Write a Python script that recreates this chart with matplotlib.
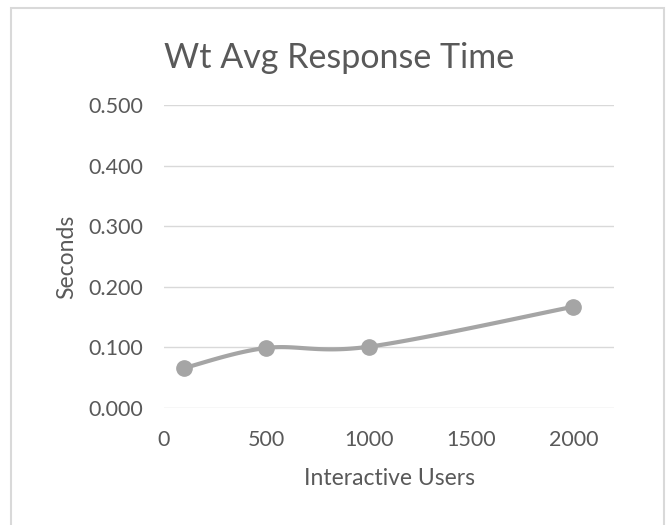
import numpy as np
import matplotlib
matplotlib.use("Agg")
import matplotlib.pyplot as plt
from matplotlib.patches import Rectangle

users = [100, 500, 1000, 2000]
seconds = [0.066, 0.099, 0.101, 0.167]
x_ticks = [0, 500, 1000, 1500, 2000]
y_ticks = [0.0, 0.1, 0.2, 0.3, 0.4, 0.5]

def catmull(xs, ys, n=40):
    P = np.column_stack([xs, ys]).astype(float)
    P = np.vstack([P[0], P, P[-1]])
    out = []
    for i in range(1, len(P) - 2):
        p0, p1, p2, p3 = P[i-1], P[i], P[i+1], P[i+2]
        c1 = p1 + (p2 - p0) / 6
        c2 = p2 - (p3 - p1) / 6
        t = np.linspace(0, 1, n)[:, None]
        seg = (1-t)**3*p1 + 3*(1-t)**2*t*c1 + 3*(1-t)*t**2*c2 + t**3*p2
        out.append(seg if i == 1 else seg[1:])
    S = np.vstack(out)
    return S[:, 0], S[:, 1]

plt.rcParams['font.family'] = ['Lato', 'DejaVu Sans']
txt = '#595959'
fig = plt.figure(figsize=(6.72, 5.25), dpi=100)
fig.patches.append(Rectangle((0.016, -0.02), 0.972, 1.005, transform=fig.transFigure,
                             fill=False, edgecolor='#D9D9D9', linewidth=1.5))
ax = fig.add_axes([0.244, 0.223, 0.67, 0.577])
sx, sy = catmull(users, seconds)
ax.plot(sx, sy, color='#A5A5A5', linewidth=3, solid_capstyle='round', zorder=3)
ax.plot(users, seconds, 'o', color='#A5A5A5', markersize=11, zorder=4)
ax.set_xlim(0, 2200)
ax.set_ylim(0, 0.5)
ax.set_xticks(x_ticks)
ax.set_yticks(y_ticks)
ax.set_yticklabels([f"{v:.3f}" for v in y_ticks])
ax.grid(axis='y', color='#D9D9D9', linewidth=1)
ax.set_axisbelow(True)
for s in ax.spines.values():
    s.set_visible(False)
ax.tick_params(length=0, labelsize=15.5, labelcolor=txt)
ax.tick_params(axis='x', pad=16)
ax.tick_params(axis='y', pad=15)
ax.set_xlabel('Interactive Users', fontsize=16.5, color=txt, labelpad=13)
ax.set_ylabel('Seconds', fontsize=16.5, color=txt, labelpad=8)
fig.text(0.505, 0.89, 'Wt Avg Response Time', ha='center', va='center', fontsize=24.5, color=txt)
fig.savefig('out.png', dpi=100)
